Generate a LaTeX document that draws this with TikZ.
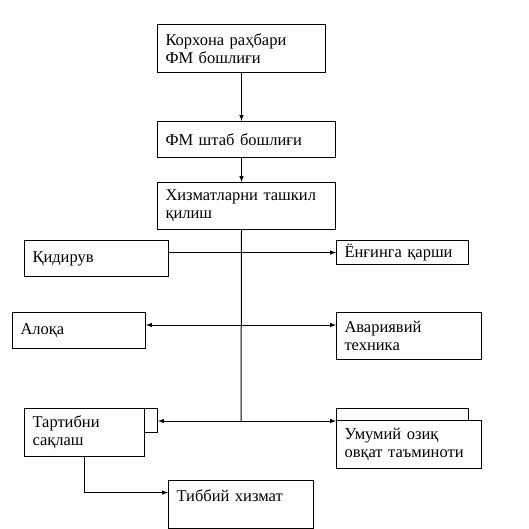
\documentclass[tikz,border=0pt]{standalone}
\usepackage{fontspec}
\setmainfont{Liberation Serif}
\usepackage{tikz}

\begin{document}
\begin{tikzpicture}[x=1pt,y=-1pt,line width=1pt,>=latex,
		box/.style={draw,anchor=north west,align=left,inner xsep=8pt,inner ysep=0pt,
			font=\fontsize{16.5}{18}\selectfont}]
		\useasboundingbox (0,0) rectangle (529,529);
		% top chain
		\node[box,minimum width=168,minimum height=48,text width=152] (head) at (157,24) {Корхона раҳбари\\ФМ бошлиғи};
		\node[box,minimum width=178,minimum height=36,text width=162] (staff) at (157,121) {ФМ штаб бошлиғи};
		\node[box,minimum width=178,minimum height=47,text width=162] (serv) at (157,182) {Хизматларни ташкил\\қилиш};
		% services
		\node[box,minimum width=144,minimum height=36,text width=128] (search) at (24,240) {Қидирув};
		\node[box,minimum width=132,minimum height=24,text width=116] (fire) at (336,240) {Ёнғинга қарши};
		\node[box,minimum width=133,minimum height=36,text width=117] (comm) at (12,312) {Алоқа};
		\node[box,minimum width=145,minimum height=47,text width=129] (tech) at (336,312) {Авариявий\\техника};
		\node[draw,anchor=north west,minimum width=13,minimum height=24,inner sep=0pt] (orderx) at (144,408) {};
		\node[box,minimum width=120,minimum height=48,text width=104] (order) at (24,408) {Тартибни\\сақлаш};
		\node[draw,anchor=north west,minimum width=132,minimum height=12,inner sep=0pt] (foodx) at (336,408) {};
		\node[box,fill=white,minimum width=145,minimum height=48,text width=129] (food) at (336,420) {Умумий озиқ\\овқат таъминоти};
		\node[box,minimum width=145,minimum height=48,text width=129] (med) at (168,480) {Тиббий хизмат\\\mbox{}};
		% trunk
		\coordinate (b1) at (241,325);
		\coordinate (b2) at (241,421);
		\draw[->] (head.south) -- (head.south |- staff.north);
		\draw[->] (head.south |- staff.south) -- (head.south |- serv.north);
		\draw (head.south |- serv.south) -- (b2);
		\draw[->] (search.east |- fire.west) -- (fire.west);
		\draw[->] (b1) -- (b1 -| comm.east);
		\draw[->] (b1) -- (b1 -| tech.west);
		\draw[->] (b2) -- (b2 -| orderx.east);
		\draw[->] (b2) -- (b2 -| food.west);
		\draw[->] (order.south) |- ([yshift=12pt]med.west);
\end{tikzpicture}
\end{document}
